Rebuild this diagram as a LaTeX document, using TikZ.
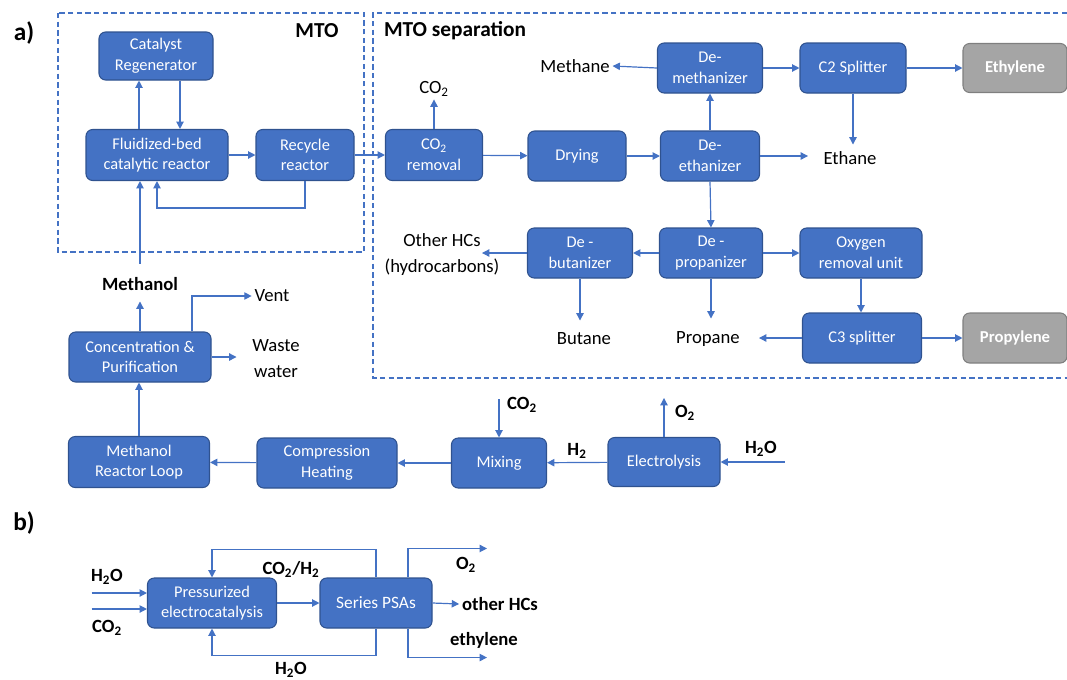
\documentclass[tikz,border=0pt]{standalone}
\usepackage{fontspec}
\setmainfont{Carlito}
\usetikzlibrary{arrows.meta}
\definecolor{boxblue}{HTML}{4472C4}
\definecolor{boxborder}{HTML}{2F528F}
\definecolor{arrowblue}{HTML}{4472C4}
\definecolor{grayfill}{HTML}{A5A5A5}
\definecolor{grayborder}{HTML}{7F7F7F}
\begin{document}
\begin{tikzpicture}[x=0.75pt,y=-0.75pt,
  sz/.style 2 args={minimum width=#1*0.75pt,minimum height=#2*0.75pt},
  box/.style={draw=boxborder,fill=boxblue,rounded corners=5pt,text=white,align=center,inner sep=1pt,line width=0.8pt,font=\fontsize{12.3}{15.5}\selectfont},
  gbox/.style={draw=grayborder,fill=grayfill,rounded corners=5pt,text=white,align=center,inner sep=1pt,line width=0.8pt,font=\fontsize{12.5}{14}\selectfont\bfseries},
  lbl/.style={text=black,align=center,inner sep=2pt,font=\fontsize{14}{19.5}\selectfont},
  blbl/.style={text=black,align=center,inner sep=2pt,font=\fontsize{14}{16}\selectfont\bfseries},
  ttl/.style={text=black,inner sep=0pt,font=\fontsize{16}{18}\selectfont\bfseries},
  arr/.style={draw=arrowblue,line width=0.9pt,-{Triangle[length=5.5pt,width=5.5pt]}},
  dashbox/.style={draw=arrowblue,line width=0.9pt,dash pattern=on 4pt off 2.5pt}]
\useasboundingbox (0,0) rectangle (1067,679);

% titles and dashed regions
\node[ttl,font=\fontsize{19}{20}\selectfont\bfseries] (la) at (24,33) {a)};
\node[ttl,font=\fontsize{19}{20}\selectfont\bfseries] (lb) at (24,523) {b)};
\draw[dashbox] (58,13) rectangle (364,252);
\draw[dashbox] (1067,13) -| (373,378) -- (1067,378);
\node[ttl] (mto) at (317,31) {MTO};
\node[ttl] (mtosep) at (455,31) {MTO separation};

% MTO
\node[box,sz={114}{48}] (cat) at (156,56) {Catalyst\\Regenerator};
\node[box,sz={142}{51}] (fbr) at (157,155) {Fluidized-bed\\catalytic reactor};
\node[box,sz={98}{51}] (rec) at (305,155) {Recycle\\reactor};
\draw[arr] ([xshift=-13.5pt]fbr.north) -- ([xshift=-13.5pt]fbr.north |- cat.south);
\draw[arr] ([xshift=18pt]cat.south) -- ([xshift=18pt]cat.south |- fbr.north);
\draw[arr] (fbr) -- (rec);
\draw[arr] (rec.south) -- ++(0,27) -| (fbr.south);

% MTO separation
\node[box,sz={97}{51}] (co2rem) at (434,155) {CO\textsubscript{2}\\removal};
\node[lbl] (co2out) at (434,89) {CO\textsubscript{2}};
\node[box,sz={98}{50}] (dry) at (577,156) {Drying};
\node[box,sz={99}{50}] (deeth) at (710,156) {De-\\ethanizer};
\node[box,sz={105}{50}] (demeth) at (710,68) {De-\\methanizer};
\node[lbl] (methane) at (575,66) {Methane};
\node[box,sz={106}{50}] (c2) at (853,68) {C2 Splitter};
\node[gbox,sz={104}{49}] (ethy) at (1015,68) {Ethylene};
\node[lbl] (ethane) at (850,158) {Ethane};
\node[box,sz={103}{50}] (deprop) at (711,253) {De -\\propanizer};
\node[box,sz={105}{50}] (debut) at (580,253) {De -\\butanizer};
\node[lbl] (ohc) at (442,255) {Other HCs\\(hydrocarbons)};
\node[box,sz={122}{50}] (oxy) at (861,253) {Oxygen\\removal unit};
\node[box,sz={119}{50}] (c3) at (862,338) {C3 splitter};
\node[gbox,sz={104}{50}] (propy) at (1015,338) {Propylene};
\node[lbl] (butane) at (584,339) {Butane};
\node[lbl] (propane) at (708,339) {Propane};

\draw[arr] (rec) -- (co2rem);
\draw[arr] (co2rem.north) -- (co2out.south);
\draw[arr] (co2rem) -- (dry);
\draw[arr] (dry) -- (deeth);
\draw[arr] (deeth.north) -- (demeth.south);
\draw[arr] (demeth.west) -- (methane.east);
\draw[arr] (demeth) -- (c2);
\draw[arr] (c2) -- (ethy);
\draw[arr] (c2.south) -- ++(0,51);
\draw[arr] (deeth.east) -- ++(48,0);
\draw[arr] (deeth.south) -- (deprop.north);
\draw[arr] (deprop.west) -- (debut.east);
\draw[arr] (debut.west) -- ++(-45,0);
\draw[arr] (deprop.east) -- (oxy.west);
\draw[arr] (oxy.south) -- (oxy.south |- c3.north);
\draw[arr] (c3) -- (propy);
\draw[arr] (c3.west) -- ++(-43,0);
\draw[arr] (debut.south) -- ++(0,42);
\draw[arr] (deprop.south) -- ++(0,40);

% methanol synthesis
\node[blbl] (methanol) at (140,284) {Methanol};
\draw[arr] ([yshift=8pt]methanol.north) -- (methanol.north |- fbr.south);
\node[box,sz={142}{50}] (conc) at (140,357) {Concentration \&\\Purification};
\node[lbl] (vent) at (272,296) {Vent};
\node[lbl] (waste) at (276,359) {Waste\\water};
\node[box,sz={141}{51}] (mrl) at (139,462) {Methanol\\Reactor Loop};
\node[box,sz={140}{50}] (comp) at (327,463) {Compression\\Heating};
\node[box,sz={95}{50}] (mix) at (499,463) {Mixing};
\node[box,sz={112}{49}] (elec) at (664,462) {Electrolysis};
\node[blbl] (co2in) at (522,405) {CO\textsubscript{2}};
\node[blbl] (o2out) at (685,413) {O\textsubscript{2}};
\node[blbl] (h2) at (577,451) {H\textsubscript{2}};
\node[blbl] (h2oin) at (761,449) {H\textsubscript{2}O};

\draw[arr] (conc.north) -- ++(0,-30);
\draw[arr] ([xshift=39pt]conc.north) |- (vent.west);
\draw[arr] (conc.east) -- ++(25,0);
\draw[arr] (mrl.north) -- (mrl.north |- conc.south);
\draw[arr] (comp) -- (mrl);
\draw[arr] (mix) -- (comp);
\draw[arr] (elec) -- (mix);
\draw[arr] ([yshift=28.5pt]mix.north) -- (mix.north);
\draw[arr] (elec.north) -- ++(0,-39);
\draw[arr] ([xshift=48pt]elec.east) -- (elec.east);

% part b
\node[box,sz={129}{50}] (pe) at (212,603) {Pressurized\\electrocatalysis};
\node[box,sz={112}{50},font=\fontsize{13}{15}\selectfont] (psa) at (376,603) {Series PSAs};
\node[blbl] (bh2o) at (107,577) {H\textsubscript{2}O};
\node[blbl] (bco2) at (107,628) {CO\textsubscript{2}};
\node[blbl] (bco2h2) at (291,569) {CO\textsubscript{2}/H\textsubscript{2}};
\node[blbl] (bh2ob) at (291,670) {H\textsubscript{2}O};
\node[blbl] (bo2) at (466,565) {O\textsubscript{2}};
\node[blbl] (bohc) at (500,604) {other HCs};
\node[blbl] (beth) at (484,640) {ethylene};

\draw[arr] ([xshift=-41.5pt,yshift=7.5pt]pe.west) -- ([yshift=7.5pt]pe.west);
\draw[arr] ([xshift=-41.5pt,yshift=-4.5pt]pe.west) -- ([yshift=-4.5pt]pe.west);
\draw[arr] (pe) -- (psa);
\draw[arr] (psa.north) -- ++(0,-28) -| (pe.north);
\draw[arr] (psa.south) -- ++(0,27) -| (pe.south);
\draw[arr] ([xshift=24pt]psa.north) -- ++(0,-29) -- ++(79,0);
\draw[arr] (psa.east) -- (bohc.west);
\draw[arr] ([xshift=24pt]psa.south) -- ++(0,29) -- ++(79,0);
\end{tikzpicture}
\end{document}
